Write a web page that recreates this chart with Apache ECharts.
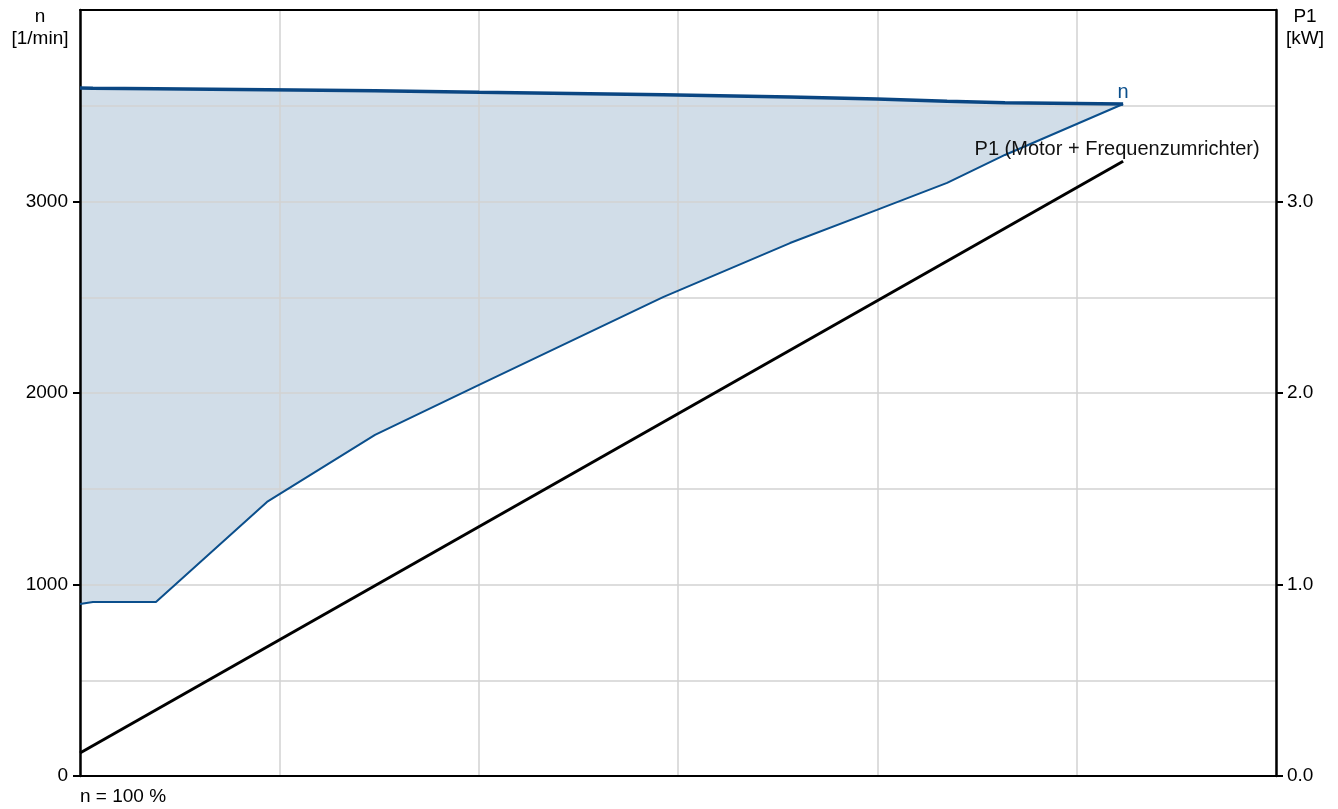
<!DOCTYPE html>
<html>
<head>
<meta charset="utf-8">
<script src="https://cdn.jsdelivr.net/npm/echarts@6/dist/echarts.min.js"></script>
<style>
html,body{margin:0;padding:0;background:#fff;}
#chart{width:1338px;height:809px;}
</style>
</head>
<body>
<div id="chart"></div>
<script>
// x positions (relative flow units, axis shows no labels)
var xPos = [0, 0.065, 0.381, 0.938, 1.480, 2.002, 2.925, 3.562, 3.998, 4.350, 4.640, 5.233];
// speed n [1/min] upper limit
var nUpper = [3593, 3592, 3589, 3584, 3578, 3570, 3558, 3546, 3535, 3524, 3516, 3509];
// speed n [1/min] lower limit
var nLower = [898, 909, 909, 1431, 1781, 2042, 2501, 2783, 2956, 3097, 3243, 3509];
// P1 power [kW]
var p1X = [0, 5.233];
var p1Val = [0.12, 3.21];

var leftTicks = [0, 1000, 2000, 3000];
var rightTicks = [0.0, 1.0, 2.0, 3.0];

var FONT = 'Liberation Sans, Arial, sans-serif';
var FS = 19;
var FSL = 20;
var BLUE = '#0b4f8c';
var BLUE_D = '#0a4682';
var GRIDC = '#d2d2d2';

var last = xPos.length - 1;
var upperData = xPos.map(function(x, i){ return [x, nUpper[i]]; });
var lowerData = xPos.map(function(x, i){ return [x, nLower[i]]; });
var p1Data = p1X.map(function(x, i){ return [x, p1Val[i]]; });

function renderBand(params, api) {
  var pts = [];
  for (var i = 0; i < xPos.length; i++) pts.push(api.coord([xPos[i], nUpper[i]]));
  for (var j = xPos.length - 1; j >= 0; j--) pts.push(api.coord([xPos[j], nLower[j]]));
  return { type: 'polygon', shape: { points: pts }, style: { fill: '#d1dde8' } };
}

var chart = echarts.init(document.getElementById('chart'), null, {renderer: 'canvas'});
chart.setOption({
  animation: false,
  backgroundColor: '#fff',
  textStyle: { fontFamily: FONT },
  grid: { left: 80, right: 62, top: 10, bottom: 33, show: false },
  xAxis: [{
    type: 'value', min: 0, max: 6, interval: 1, z: 2,
    axisLabel: { show: false },
    axisTick: { show: false },
    axisLine: { show: true, onZero: false, lineStyle: { color: '#000', width: 2 } },
    splitLine: { show: true, lineStyle: { color: GRIDC, width: 1.5 } }
  }, {
    type: 'value', min: 0, max: 6, interval: 1, position: 'top', z: 2,
    axisLabel: { show: false },
    axisTick: { show: false },
    axisLine: { show: true, onZero: false, lineStyle: { color: '#000', width: 2 } },
    splitLine: { show: false }
  }],
  yAxis: [{
    type: 'value', min: 0, max: 4000, interval: 1000, position: 'left', z: 2,
    axisLine: { show: true, onZero: false, lineStyle: { color: '#000', width: 2.5 } },
    axisTick: { show: true, length: 7, lineStyle: { color: '#000', width: 2 } },
    axisLabel: { color: '#000', fontSize: FS, fontFamily: FONT, margin: 12, showMaxLabel: false,
      formatter: function(v){ return leftTicks.indexOf(v) >= 0 ? String(v) : ''; } },
    splitLine: { show: true, lineStyle: { color: GRIDC, width: 1.5 } },
    minorTick: { show: false, splitNumber: 2 },
    minorSplitLine: { show: true, lineStyle: { color: GRIDC, width: 1.5 } }
  }, {
    type: 'value', min: 0, max: 4, interval: 1, position: 'right', z: 2,
    axisLine: { show: true, onZero: false, lineStyle: { color: '#000', width: 2.5 } },
    axisTick: { show: true, length: 7, lineStyle: { color: '#000', width: 2 } },
    axisLabel: { color: '#000', fontSize: FS, fontFamily: FONT, margin: 11, showMaxLabel: false,
      formatter: function(v){ return rightTicks.indexOf(v) >= 0 ? v.toFixed(1) : ''; } },
    splitLine: { show: false }
  }],
  graphic: [
    { type: 'text', left: 10, top: 6, style: { text: 'n\n[1/min]', fill: '#000', font: FS + 'px ' + FONT, textAlign: 'center', lineHeight: 22, width: 60 } },
    { type: 'text', left: 1280, top: 6, style: { text: 'P1\n[kW]', fill: '#000', font: FS + 'px ' + FONT, textAlign: 'center', lineHeight: 22, width: 50 } },
    { type: 'text', left: 80, top: 787, style: { text: 'n = 100 %', fill: '#000', font: FS + 'px ' + FONT } }
  ],
  series: [{
    name: 'band', type: 'custom', renderItem: renderBand, data: [0], z: 1, silent: true
  }, {
    name: 'n min', type: 'line', data: lowerData,
    symbol: 'none', z: 4,
    lineStyle: { color: BLUE, width: 2 }
  }, {
    name: 'n', type: 'line', data: upperData,
    symbol: 'none', z: 4,
    lineStyle: { color: BLUE_D, width: 3.5 },
    markPoint: {
      symbol: 'circle', symbolSize: 1, silent: true,
      itemStyle: { color: 'rgba(0,0,0,0)' },
      label: { show: true, position: 'top', distance: 1, formatter: 'n', color: BLUE, fontSize: FSL, fontFamily: FONT },
      data: [{ coord: [xPos[last], nUpper[last]] }]
    }
  }, {
    name: 'P1', type: 'line', yAxisIndex: 1, data: p1Data,
    symbol: 'none', z: 5,
    lineStyle: { color: '#000', width: 3 },
    markPoint: {
      symbol: 'circle', symbolSize: 1, silent: true,
      itemStyle: { color: 'rgba(0,0,0,0)' },
      label: { show: true, position: 'top', distance: 1, offset: [-6, 0], formatter: 'P1 (Motor + Frequenzumrichter)', color: '#111', fontSize: FSL, fontFamily: FONT },
      data: [{ coord: [p1X[1], p1Val[1]] }]
    }
  }]
});
</script>
</body>
</html>
